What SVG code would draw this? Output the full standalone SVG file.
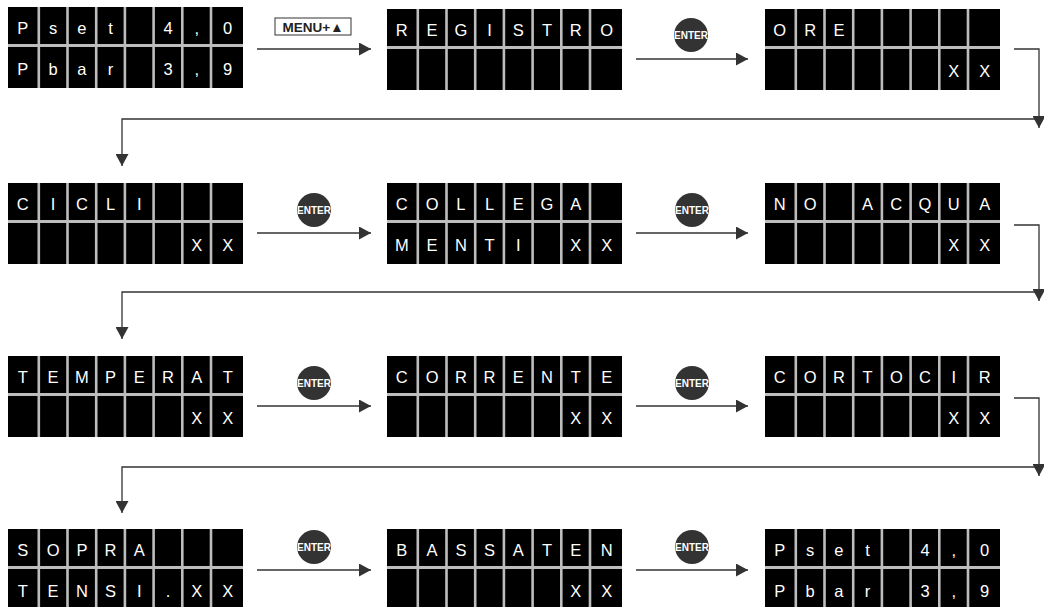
<svg xmlns="http://www.w3.org/2000/svg" xmlns:xlink="http://www.w3.org/1999/xlink" width="1044" height="607" viewBox="0 0 1044 607">
<style>
.t{font-family:"Liberation Sans",Arial,sans-serif;font-size:16.5px;fill:#fff;text-anchor:middle}
.ln{fill:none;stroke:#333;stroke-width:1.3}
.btn{fill:#333}
.bt{font-family:"Liberation Sans",Arial,sans-serif;font-size:10px;font-weight:bold;fill:#fff;text-anchor:middle}
.menu{font-family:"Liberation Sans",Arial,sans-serif;font-size:13.5px;font-weight:bold;fill:#222;text-anchor:middle}
</style>
<defs>
<marker id="ah" markerUnits="userSpaceOnUse" markerWidth="13" markerHeight="13" refX="12" refY="6.5" orient="auto" viewBox="0 0 13 13">
<path d="M0,0 L12,6.5 L0,13 z" fill="#333"/>
</marker>
<g id="frame">
<rect x="0" y="0" width="235" height="81" fill="#000"/>
<g fill="#bdbdbd">
<rect x="0" y="37" width="235" height="3"/>
<rect x="29.5" y="0" width="2.6" height="81"/>
<rect x="58.2" y="0" width="2.6" height="81"/>
<rect x="86.9" y="0" width="2.6" height="81"/>
<rect x="115.6" y="0" width="2.6" height="81"/>
<rect x="144.3" y="0" width="2.6" height="81"/>
<rect x="173" y="0" width="2.6" height="81"/>
<rect x="201.7" y="0" width="2.6" height="81"/>
</g>
</g>
</defs>
<rect width="1044" height="607" fill="#fff"/>

<g id="connectors">
<path class="ln" d="M257,49 H371" marker-end="url(#ah)"/>
<path class="ln" d="M636,59 H748" marker-end="url(#ah)"/>
<path class="ln" d="M1014,49 H1039 V128" marker-end="url(#ah)"/>
<path class="ln" d="M1039,119 H122 V166" marker-end="url(#ah)"/>

<path class="ln" d="M257,233 H371" marker-end="url(#ah)"/>
<path class="ln" d="M636,233 H748" marker-end="url(#ah)"/>
<path class="ln" d="M1014,225 H1039 V301" marker-end="url(#ah)"/>
<path class="ln" d="M1039,292 H122 V339" marker-end="url(#ah)"/>

<path class="ln" d="M257,406 H371" marker-end="url(#ah)"/>
<path class="ln" d="M636,406 H748" marker-end="url(#ah)"/>
<path class="ln" d="M1014,398 H1039 V476" marker-end="url(#ah)"/>
<path class="ln" d="M1039,467 H122 V513" marker-end="url(#ah)"/>

<path class="ln" d="M257,570 H371" marker-end="url(#ah)"/>
<path class="ln" d="M636,570 H748" marker-end="url(#ah)"/>
</g>

<g id="label-menu">
<rect x="275" y="18" width="76" height="17" fill="#fff" stroke="#333" stroke-width="1"/>
<text class="menu" x="313" y="31.5">MENU+▲</text>
</g>
<g id="enter-1"><circle class="btn" cx="691" cy="35" r="17"/><text class="bt" x="691" y="38.6">ENTER</text></g>
<g id="enter-2"><circle class="btn" cx="314" cy="210" r="17"/><text class="bt" x="314" y="213.6">ENTER</text></g>
<g id="enter-3"><circle class="btn" cx="692" cy="210" r="17"/><text class="bt" x="692" y="213.6">ENTER</text></g>
<g id="enter-4"><circle class="btn" cx="314" cy="383" r="17"/><text class="bt" x="314" y="386.6">ENTER</text></g>
<g id="enter-5"><circle class="btn" cx="692" cy="383" r="17"/><text class="bt" x="692" y="386.6">ENTER</text></g>
<g id="enter-6"><circle class="btn" cx="314" cy="547" r="17"/><text class="bt" x="314" y="550.6">ENTER</text></g>
<g id="enter-7"><circle class="btn" cx="692" cy="547" r="17"/><text class="bt" x="692" y="550.6">ENTER</text></g>

<g id="d1" transform="translate(8,7)"><use xlink:href="#frame" href="#frame"/>
<text class="t" x="14.75 45.1 73.9 102.5 160 188.7 219.7" y="27">Pset4,0</text>
<text class="t" x="14.75 45.1 73.9 102.5 160 188.7 219.7" y="68">Pbar3,9</text></g>

<g id="d2" transform="translate(387,9)"><use xlink:href="#frame" href="#frame"/>
<text class="t" x="14.75 45.1 73.9 102.5 131.3 160 188.7 219.7" y="27">REGISTRO</text></g>

<g id="d3" transform="translate(765,9)"><use xlink:href="#frame" href="#frame"/>
<text class="t" x="14.75 45.1 73.9" y="27">ORE</text>
<text class="t" x="188.7 219.7" y="68">XX</text></g>

<g id="d4" transform="translate(8,183)"><use xlink:href="#frame" href="#frame"/>
<text class="t" x="14.75 45.1 73.9 102.5 131.3" y="27">CICLI</text>
<text class="t" x="188.7 219.7" y="68">XX</text></g>

<g id="d5" transform="translate(387,183)"><use xlink:href="#frame" href="#frame"/>
<text class="t" x="14.75 45.1 73.9 102.5 131.3 160 188.7" y="27">COLLEGA</text>
<text class="t" x="14.75 45.1 73.9 102.5 131.3 188.7 219.7" y="68">MENTIXX</text></g>

<g id="d6" transform="translate(765,183)"><use xlink:href="#frame" href="#frame"/>
<text class="t" x="14.75 45.1 102.5 131.3 160 188.7 219.7" y="27">NOACQUA</text>
<text class="t" x="188.7 219.7" y="68">XX</text></g>

<g id="d7" transform="translate(8,356)"><use xlink:href="#frame" href="#frame"/>
<text class="t" x="14.75 45.1 73.9 102.5 131.3 160 188.7 219.7" y="27">TEMPERAT</text>
<text class="t" x="188.7 219.7" y="68">XX</text></g>

<g id="d8" transform="translate(387,356)"><use xlink:href="#frame" href="#frame"/>
<text class="t" x="14.75 45.1 73.9 102.5 131.3 160 188.7 219.7" y="27">CORRENTE</text>
<text class="t" x="188.7 219.7" y="68">XX</text></g>

<g id="d9" transform="translate(765,356)"><use xlink:href="#frame" href="#frame"/>
<text class="t" x="14.75 45.1 73.9 102.5 131.3 160 188.7 219.7" y="27">CORTOCIR</text>
<text class="t" x="188.7 219.7" y="68">XX</text></g>

<g id="d10" transform="translate(8,529)"><use xlink:href="#frame" href="#frame"/>
<text class="t" x="14.75 45.1 73.9 102.5 131.3" y="27">SOPRA</text>
<text class="t" x="14.75 45.1 73.9 102.5 131.3 160 188.7 219.7" y="68">TENSI.XX</text></g>

<g id="d11" transform="translate(387,529)"><use xlink:href="#frame" href="#frame"/>
<text class="t" x="14.75 45.1 73.9 102.5 131.3 160 188.7 219.7" y="27">BASSATEN</text>
<text class="t" x="188.7 219.7" y="68">XX</text></g>

<g id="d12" transform="translate(765,529)"><use xlink:href="#frame" href="#frame"/>
<text class="t" x="14.75 45.1 73.9 102.5 160 188.7 219.7" y="27">Pset4,0</text>
<text class="t" x="14.75 45.1 73.9 102.5 160 188.7 219.7" y="68">Pbar3,9</text></g>
</svg>
